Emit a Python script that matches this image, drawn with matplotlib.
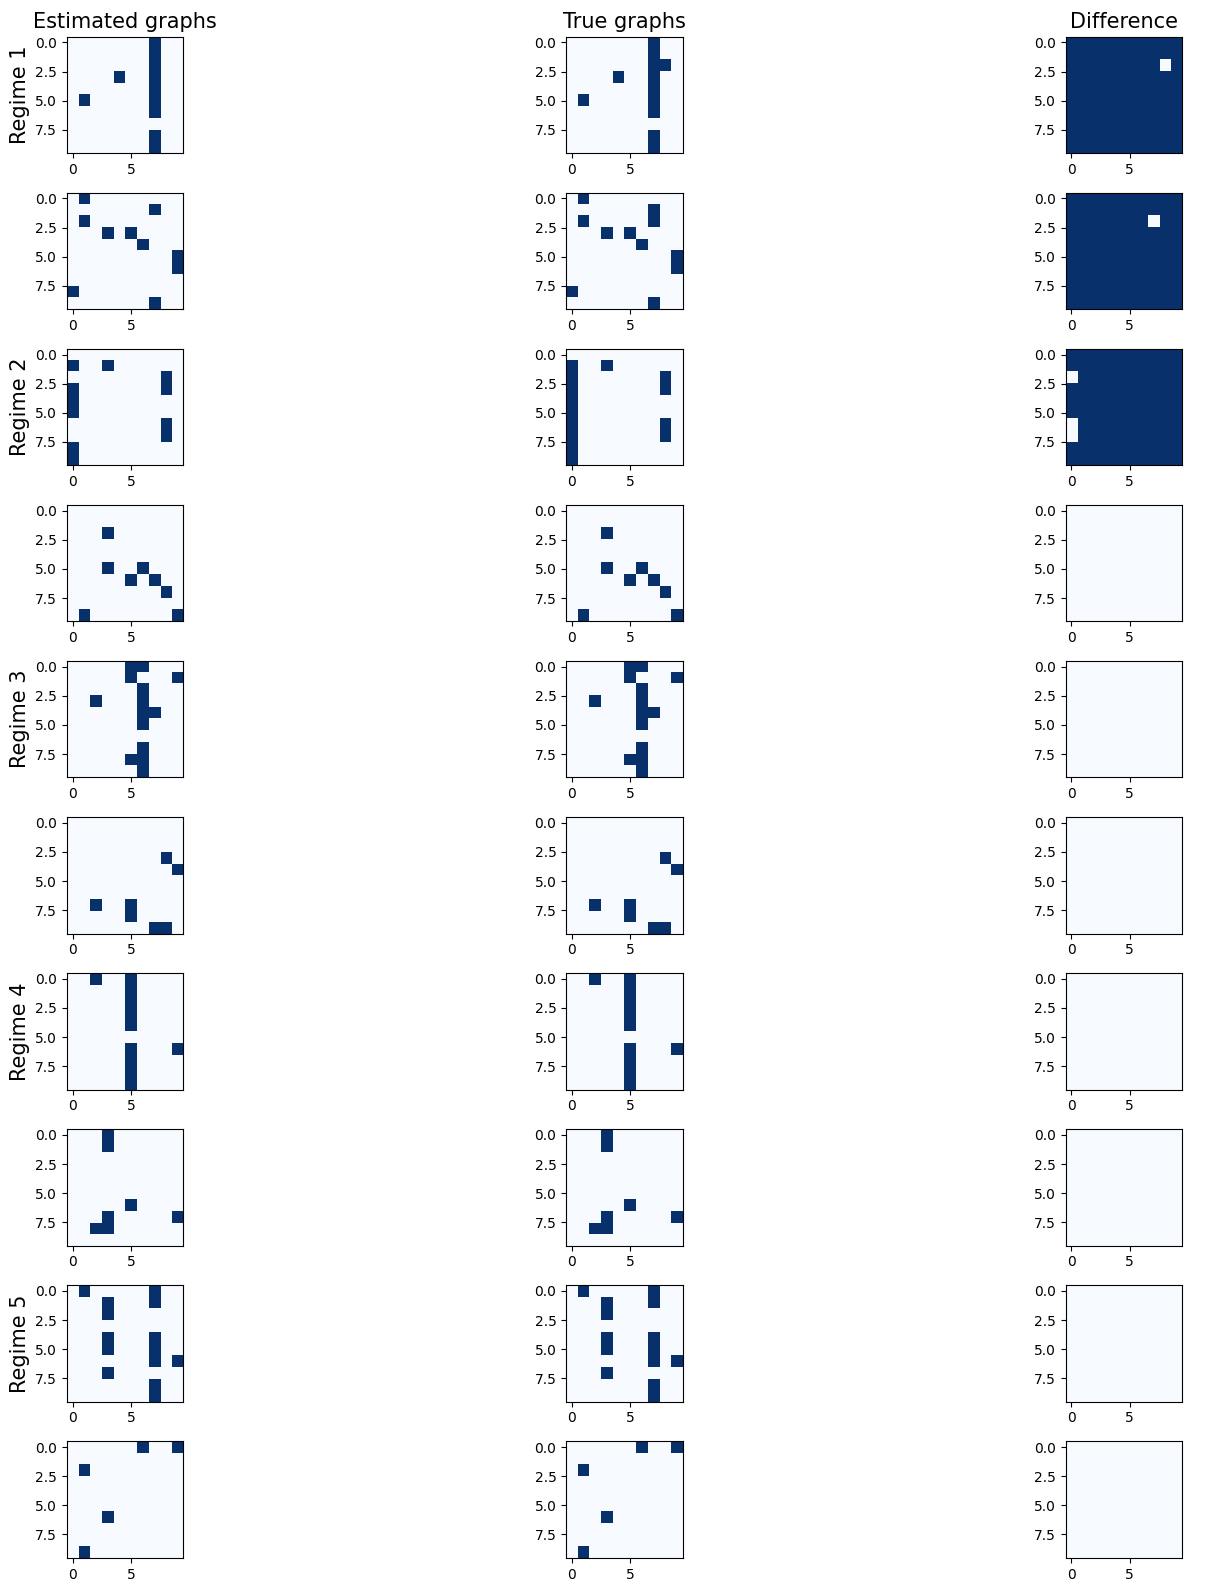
import numpy as np
import matplotlib.pyplot as plt

n_nodes = 10
n_regimes = 5
graphs_per_regime = 2

# nonzero entries (row, col) of each estimated graph
est_edges = [
    [(0, 7), (1, 7), (2, 7), (3, 7), (4, 7), (5, 7), (6, 7), (8, 7), (9, 7), (3, 4), (5, 1)],
    [(0, 1), (1, 7), (2, 1), (3, 3), (3, 5), (4, 6), (5, 9), (6, 9), (8, 0), (9, 7)],
    [(1, 0), (1, 3), (3, 0), (4, 0), (5, 0), (8, 0), (9, 0), (2, 8), (3, 8), (6, 8), (7, 8)],
    [(2, 3), (5, 3), (5, 6), (6, 5), (6, 7), (7, 8), (9, 1), (9, 9)],
    [(0, 5), (1, 5), (0, 6), (1, 9), (2, 6), (3, 6), (4, 6), (5, 6), (3, 2), (4, 7),
     (7, 6), (8, 6), (9, 6), (8, 5)],
    [(3, 8), (4, 9), (7, 2), (7, 5), (8, 5), (9, 7), (9, 8)],
    [(0, 2), (0, 5), (1, 5), (2, 5), (3, 5), (4, 5), (6, 5), (7, 5), (8, 5), (9, 5), (6, 9)],
    [(0, 3), (1, 3), (6, 5), (7, 3), (7, 9), (8, 2), (8, 3)],
    [(0, 1), (0, 7), (1, 7), (1, 3), (2, 3), (4, 3), (5, 3), (4, 7), (5, 7), (6, 7),
     (6, 9), (7, 3), (8, 7), (9, 7)],
    [(0, 6), (0, 9), (2, 1), (6, 3), (9, 1)],
]

# edges present in the true graph but missed by the estimate
missed_edges = [
    [(2, 8)],
    [(2, 7)],
    [(2, 0), (6, 0), (7, 0)],
    [], [], [], [], [], [], [],
]


def to_matrix(edges):
    m = np.zeros((n_nodes, n_nodes))
    for r, c in edges:
        m[r, c] = 1
    return m


est_graphs = [to_matrix(e) for e in est_edges]
true_graphs = [to_matrix(e + m) for e, m in zip(est_edges, missed_edges)]

n_rows = n_regimes * graphs_per_regime
fig, axes = plt.subplots(n_rows, 3, figsize=(12.12, 15.88), dpi=100)
plt.subplots_adjust(left=0.055, right=0.9755, top=0.977, bottom=0.019,
                    hspace=0.338, wspace=3.28)

for i in range(n_rows):
    axes[i, 0].imshow(est_graphs[i], cmap="Blues")
    axes[i, 1].imshow(true_graphs[i], cmap="Blues")
    axes[i, 2].imshow(est_graphs[i] - true_graphs[i], cmap="Blues")
    if i % graphs_per_regime == 0:
        axes[i, 0].set_ylabel(f"Regime {i // graphs_per_regime + 1}", fontsize=15)

axes[0, 0].set_title("Estimated graphs", fontsize=15)
axes[0, 1].set_title("True graphs", fontsize=15)
axes[0, 2].set_title("Difference", fontsize=15)

plt.savefig("out.png", dpi=100)
